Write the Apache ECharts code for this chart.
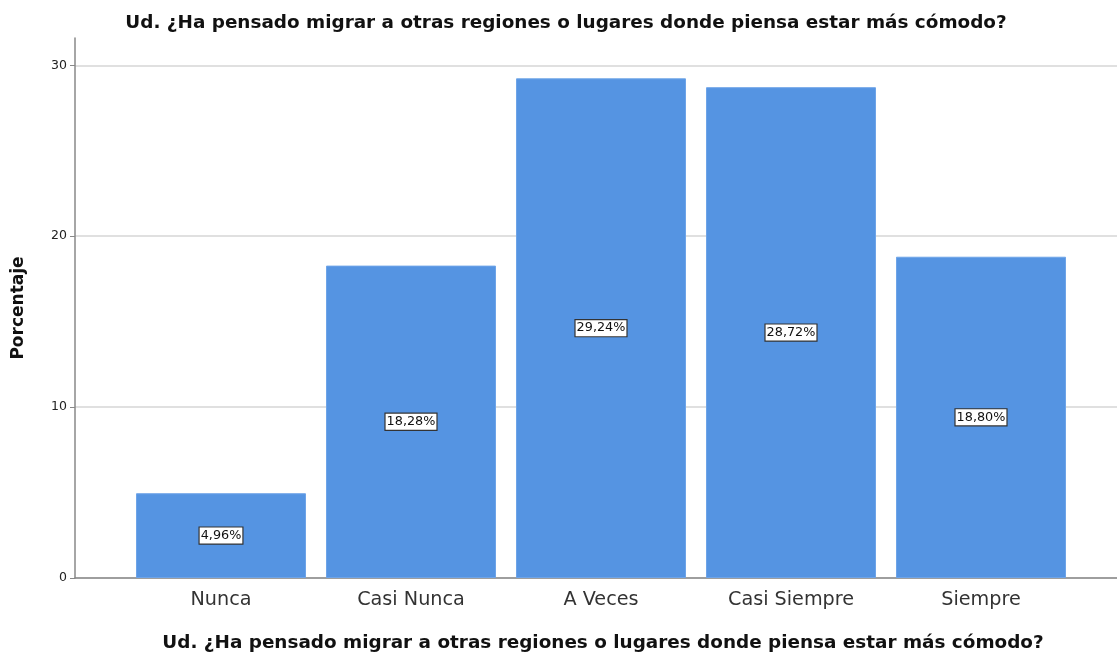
<!DOCTYPE html>
<html>
<head>
<meta charset="utf-8">
<script src="https://cdn.jsdelivr.net/npm/echarts@6/dist/echarts.min.js"></script>
<style>html,body{margin:0;padding:0;background:#fff}#c{width:1117px;height:654px}</style>
</head>
<body>
<div id="c"></div>
<script>
const categories = ['Nunca', 'Casi Nunca', 'A Veces', 'Casi Siempre', 'Siempre'];
const values = [4.96, 18.28, 29.24, 28.72, 18.80];
const yTicks = [0, 10, 20, 30];
const titleText = 'Ud. ¿Ha pensado migrar a otras regiones o lugares donde piensa estar más cómodo?';

const chart = echarts.init(document.getElementById('c'));
const font = 'DejaVu Sans, sans-serif';
chart.setOption({
  animation: false,
  textStyle: { fontFamily: font },
  title: [
    { text: titleText, left: 561, textAlign: 'center', top: 9, textStyle: { fontSize: 18.4, fontWeight: 'bold', color: '#111', fontFamily: font } },
    { text: titleText, left: 598, textAlign: 'center', top: 629, textStyle: { fontSize: 18.4, fontWeight: 'bold', color: '#111', fontFamily: font } }
  ],
  grid: [
    { left: 75, right: 0, top: 38, bottom: 76 },
    { left: 126, width: 950, top: 38, bottom: 76 }
  ],
  xAxis: [
    { type: 'value', gridIndex: 0, min: 0, max: 1, axisLine: { show: true, lineStyle: { color: '#888', width: 1.5 } }, axisTick: { show: false }, axisLabel: { show: false }, splitLine: { show: false } },
    { type: 'category', gridIndex: 1, data: categories, axisLine: { show: false }, axisTick: { show: false },
      axisLabel: { fontSize: 19.2, color: '#333', margin: 13, fontFamily: font } }
  ],
  yAxis: [
    { type: 'value', gridIndex: 0, min: 0, max: 31.6, interval: 10,
      name: 'Porcentaje', nameLocation: 'middle', nameGap: 48, nameRotate: 90,
      nameTextStyle: { fontSize: 17, fontWeight: 'bold', color: '#111', fontFamily: font },
      axisLine: { show: true, lineStyle: { color: '#888', width: 1.5 } },
      axisTick: { show: true, length: 5, lineStyle: { color: '#888' } },
      axisLabel: { fontSize: 12.5, color: '#222', margin: 8, showMaxLabel: false,
        formatter: v => yTicks.includes(v) ? String(v) : '' },
      splitLine: { show: true, showMaxLine: false, lineStyle: { color: '#d6d6d6', width: 1.5 } } },
    { type: 'value', gridIndex: 1, min: 0, max: 31.6, show: false, splitLine: { show: false } }
  ],
  series: [{
    type: 'bar',
    xAxisIndex: 1, yAxisIndex: 1,
    data: values,
    barWidth: 170,
    itemStyle: { color: '#5594E2', borderColor: '#6ea4e8', borderWidth: 1 },
    label: {
      show: true, position: 'inside',
      formatter: p => p.value.toFixed(2).replace('.', ',') + '%',
      fontSize: 12.8, color: '#111', fontFamily: font,
      backgroundColor: '#fff', borderColor: '#333', borderWidth: 1.2,
      padding: [2, 1, 1, 1]
    }
  }]
});
</script>
</body>
</html>
